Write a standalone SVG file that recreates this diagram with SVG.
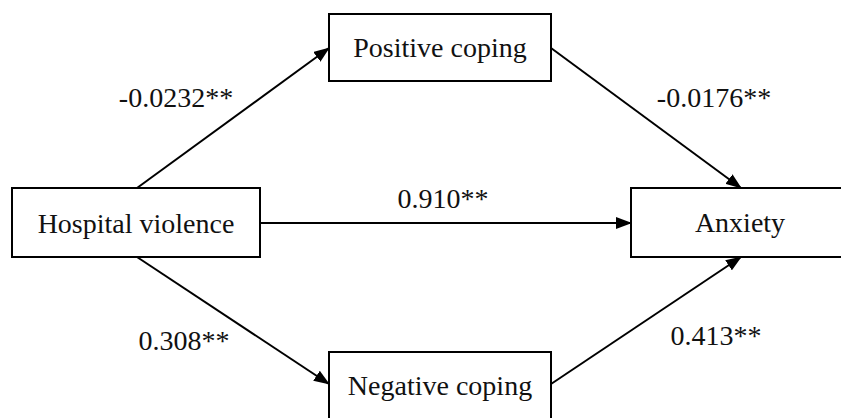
<svg xmlns="http://www.w3.org/2000/svg" width="841" height="418" viewBox="0 0 841 418">
<style>
.box{fill:#fff;stroke:#000;stroke-width:2}
.t{font-family:"Liberation Serif","Times New Roman",serif;font-size:28px;fill:#111;text-anchor:middle}
.c{stroke:#000;stroke-width:2;fill:none;marker-end:url(#ah)}
</style>
<defs>
<marker id="ah" viewBox="0 0 16 12" refX="15" refY="6" markerWidth="16" markerHeight="12" markerUnits="userSpaceOnUse" orient="auto">
<path d="M0,0 L16,6 L0,12 Z" fill="#000"/>
</marker>
</defs>
<rect width="841" height="418" fill="#fff"/>
<g id="connectors">
<line class="c" x1="137" y1="188" x2="329" y2="48"/>
<line class="c" x1="551" y1="48" x2="741" y2="188"/>
<line class="c" x1="260" y1="223" x2="631" y2="223"/>
<line class="c" x1="137" y1="257" x2="329" y2="384"/>
<line class="c" x1="551" y1="384" x2="741" y2="257"/>
</g>
<g id="labels">
<text class="t" x="176" y="107">-0.0232**</text>
<text class="t" x="714" y="107">-0.0176**</text>
<text class="t" x="443" y="208">0.910**</text>
<text class="t" x="184" y="350">0.308**</text>
<text class="t" x="716" y="345">0.413**</text>
</g>
<g id="hospital">
<rect class="box" x="12" y="188" width="248" height="69"/>
<text class="t" x="136" y="233">Hospital violence</text>
</g>
<g id="positive">
<rect class="box" x="329" y="14" width="222" height="67"/>
<text class="t" x="440" y="57">Positive coping</text>
</g>
<g id="anxiety">
<rect class="box" x="631" y="188" width="215" height="69"/>
<text class="t" x="740" y="232">Anxiety</text>
</g>
<g id="negative">
<rect class="box" x="329" y="352" width="222" height="72"/>
<text class="t" x="440" y="395">Negative coping</text>
</g>
</svg>
